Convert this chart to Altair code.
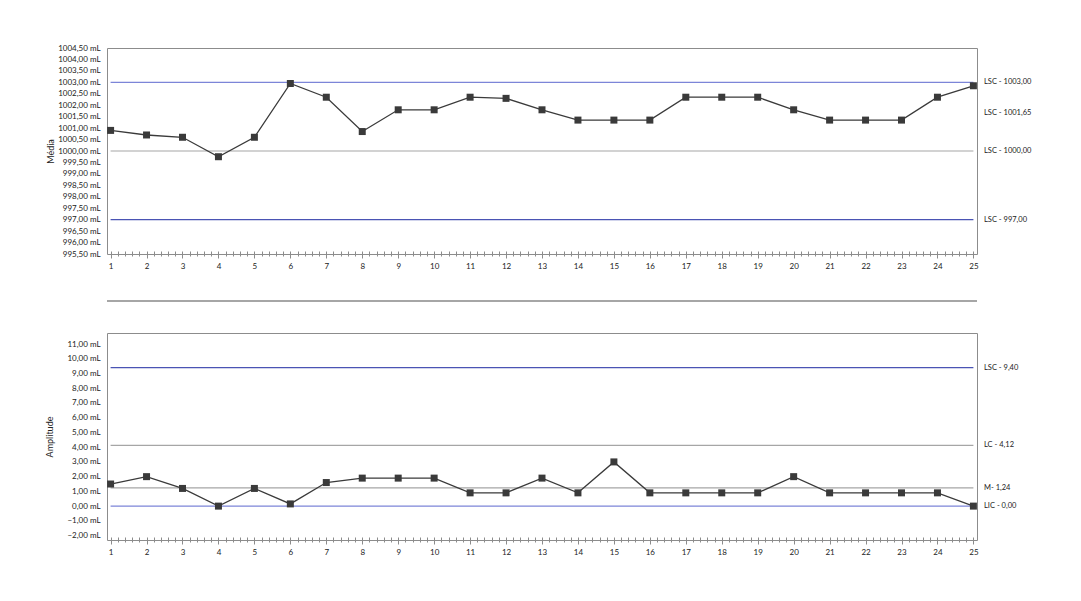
import altair as alt
import pandas as pd

# ---------------- data ----------------
samples = list(range(1, 26))
media = [1000.9, 1000.7, 1000.6, 999.75, 1000.6, 1002.95, 1002.35, 1000.85, 1001.8, 1001.8,
         1002.35, 1002.3, 1001.8, 1001.35, 1001.35, 1001.35, 1002.35, 1002.35, 1002.35, 1001.8,
         1001.35, 1001.35, 1001.35, 1002.35, 1002.85]
amplitude = [1.5, 2.0, 1.2, 0.0, 1.2, 0.15, 1.6, 1.9, 1.9, 1.9,
             0.9, 0.9, 1.9, 0.9, 3.0, 0.9, 0.9, 0.9, 0.9, 2.0,
             0.9, 0.9, 0.9, 0.9, 0.0]

top_limits = [1003.0, 1001.65, 1000.0, 997.0]
top_limit_labels = ["LSC - 1003,00", "LSC - 1001,65", "LSC - 1000,00", "LSC - 997,00"]

bot_limits = [9.40, 4.12, 1.24, 0.0]
bot_limit_labels = ["LSC - 9,40", "LC - 4,12", "M- 1,24", "LIC - 0,00"]

top_ticks = [995.5 + 0.5 * i for i in range(19)]
bot_ticks = list(range(-2, 12))
x_ticks = [round(1 + 0.2 * i, 1) for i in range(121)]

# ---------------- styles ----------------
FONT = "Lato"
W, H1, H2 = 870, 206, 207
top_colors = ["#7c85d8", "rgba(0,0,0,0)", "#a6a6a6", "#4a54b4"]
bot_colors = ["#4a54b4", "#a6a6a6", "#a6a6a6", "#7c85d8"]

df_top = pd.DataFrame({"amostra": samples, "valor": media})
df_bot = pd.DataFrame({"amostra": samples, "valor": amplitude})
lim_top = pd.DataFrame({"valor": top_limits, "label": top_limit_labels, "cor": top_colors})
lim_bot = pd.DataFrame({"valor": bot_limits, "label": bot_limit_labels, "cor": bot_colors})

label_expr_y = "replace(format(datum.value, '.2f'), '.', ',') + ' mL'"

x_axis = alt.Axis(
    values=x_ticks, tickCount=500,
    labelExpr="abs(datum.value - round(datum.value)) < 0.01 ? format(datum.value, 'd') : ''",
    labelOverlap=False, labelFlush=False, grid=False, domain=False,
    tickSize={"condition": {"test": "abs(datum.value - round(datum.value)) < 0.01", "value": 7}, "value": 5},
    tickColor="#8c8c8c", offset=-3, labelPadding=4,
    labelFont=FONT, labelFontSize=8, labelColor="#222222", title=None,
)


def panel(df, lim, domain, ticks, height, title, title_x):
    x = alt.X("amostra:Q", scale=alt.Scale(domain=[0.9, 25.1], nice=False, zero=False), axis=x_axis)
    yscale = alt.Scale(domain=domain, nice=False, zero=False)
    y_axis = alt.Axis(values=ticks, tickCount=500, labelOverlap=False, labelExpr=label_expr_y,
                      grid=False, ticks=False, domain=False,
                      labelPadding=7, labelFont=FONT, labelFontSize=8, labelColor="#222222",
                      title=title, titleFont=FONT, titleFontSize=9, titleFontWeight="normal",
                      titleColor="#222222", titleX=title_x, titleY=height / 2,
                      titleAlign="center", titleBaseline="middle", titleAngle=-90)
    base = alt.Chart(df)
    rules = alt.Chart(lim).mark_rule(strokeWidth=1.2).encode(
        x=alt.datum(1), x2=alt.datum(25),
        y=alt.Y("valor:Q", scale=yscale, axis=y_axis),
        color=alt.Color("cor:N", scale=None),
    )
    labels = alt.Chart(lim).mark_text(align="left", baseline="middle", font=FONT, fontSize=7.5,
                                      color="#222222").encode(
        x=alt.value(W + 7), y=alt.Y("valor:Q", scale=yscale), text="label:N")
    line = base.mark_line(color="#3a3a3a", strokeWidth=1.3).encode(
        x=x, y=alt.Y("valor:Q", scale=yscale, axis=y_axis))
    pts = base.mark_square(size=49, color="#3a3a3a", opacity=1).encode(
        x=x, y=alt.Y("valor:Q", scale=yscale))
    return rules, line, pts, labels


r1, l1, p1, t1 = panel(df_top, lim_top, [995.5, 1004.5], top_ticks, H1, "Média", -57)
sep = alt.Chart(df_top).mark_rule(color="#a6a6a6", strokeWidth=1.5).encode(
    x=alt.value(0), x2=alt.value(W), y=alt.value(H1 + 47))
top = alt.layer(r1, l1, p1, t1, sep).properties(width=W, height=H1)

r2, l2, p2, t2 = panel(df_bot, lim_bot, [-2.3, 11.75], bot_ticks, H2, "Amplitude", -58)
bottom = alt.layer(r2, l2, p2, t2).properties(width=W, height=H2)

chart = alt.vconcat(top, bottom, spacing=79, bounds="flush").properties(
    padding={"left": 36, "top": 35, "right": 5, "bottom": 5}
).configure_view(stroke="#8c8c8c", strokeWidth=1).resolve_scale(y="independent")

chart.save("out.html", embed_options={"renderer": "svg", "actions": False})
